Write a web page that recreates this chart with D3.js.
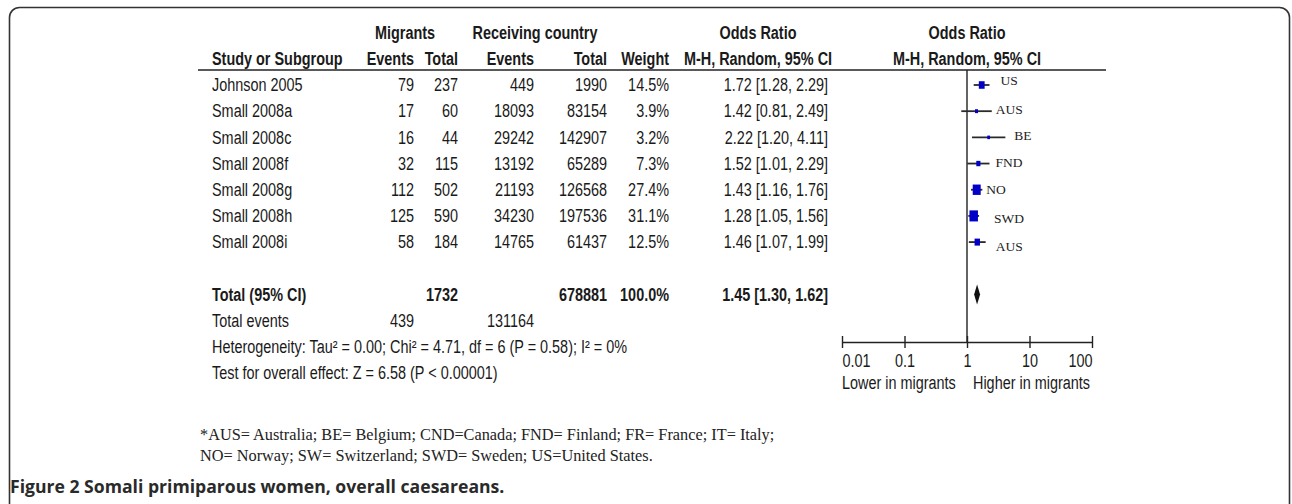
<!DOCTYPE html>
<html>
<head>
<meta charset="utf-8">
<script src="https://cdn.jsdelivr.net/npm/d3@7/dist/d3.min.js"></script>
<style>
body { margin: 0; background: #fff; }
.tbl { font-family: "Liberation Sans", Arial, sans-serif; font-size: 17.6px; fill: #1a1a1a; }
.b { font-weight: bold; }
.ctry { font-family: "Liberation Serif", "Times New Roman", serif; font-size: 13.5px; fill: #222; }
.note { font-family: "Liberation Serif", "Times New Roman", serif; font-size: 16.3px; fill: #222; }
.cap { font-family: "Open Sans", "Noto Sans", sans-serif; font-size: 17.6px; font-weight: bold; fill: #2a2a2a; }
</style>
</head>
<body>
<script>
var width = 1292, height = 504;

// study rows
var studies = ["Johnson 2005", "Small 2008a", "Small 2008c", "Small 2008f", "Small 2008g", "Small 2008h", "Small 2008i"];
var migEvents = [79, 17, 16, 32, 112, 125, 58];
var migTotal = [237, 60, 44, 115, 502, 590, 184];
var recEvents = [449, 18093, 29242, 13192, 21193, 34230, 14765];
var recTotal = [1990, 83154, 142907, 65289, 126568, 197536, 61437];
var weights = [14.5, 3.9, 3.2, 7.3, 27.4, 31.1, 12.5];
var orEst = [1.72, 1.42, 2.22, 1.52, 1.43, 1.28, 1.46];
var orLow = [1.28, 0.81, 1.20, 1.01, 1.16, 1.05, 1.07];
var orHigh = [2.29, 2.49, 4.11, 2.29, 1.76, 1.56, 1.99];
var countries = ["US", "AUS", "BE", "FND", "NO", "SWD", "AUS"];

// pooled
var totalMig = 1732, totalRec = 678881, totalWeight = 100.0;
var totalOR = [1.45, 1.30, 1.62];
var totalEvents = [439, 131164];
var heterogeneity = "Heterogeneity: Tau\u00b2 = 0.00; Chi\u00b2 = 4.71, df = 6 (P = 0.58); I\u00b2 = 0%";
var overall = "Test for overall effect: Z = 6.58 (P < 0.00001)";

var axisTicks = [0.01, 0.1, 1, 10, 100];
var footnote = ["*AUS= Australia; BE= Belgium; CND=Canada; FND= Finland; FR= France; IT= Italy;",
                "NO= Norway; SW= Switzerland; SWD= Sweden; US=United States."];
var caption = "Figure 2 Somali primiparous women, overall caesareans.";

// country labels were placed by hand in the original, nudge them a bit
var labelDx = [11, 4, 9, 6, 4, 15, 10];
var labelDy = [-5, -2, -2, -1, 0, 2, 4];

// no narrow font installed: squeeze a regular one
var squeeze = 0.82;

var fmt2 = d3.format(".2f");
var fmt1 = d3.format(".1f");
function orText(e, l, h) { return fmt2(e) + " [" + fmt2(l) + ", " + fmt2(h) + "]"; }

var svg = d3.select("body").append("svg")
    .attr("width", width)
    .attr("height", height);

svg.append("rect").attr("width", width).attr("height", height).attr("fill", "#fff");

// frame, open at the bottom
svg.append("rect")
    .attr("x", 9.5).attr("y", 7.5)
    .attr("width", 1280).attr("height", 540)
    .attr("rx", 10)
    .attr("fill", "none")
    .attr("stroke", "#333")
    .attr("stroke-width", 1.6);

// row index -> y
var y = d3.scaleLinear().domain([0, 11]).range([85, 373]);
var x = d3.scaleLog().domain([0.01, 100]).range([842, 1092]);
var size = d3.scaleSqrt().domain([0, 31.1]).range([0, 8.5]);

var col = { name: 212, mEv: 414, mTot: 458, rEv: 534, rTot: 607, w: 669, or: 828, orMid: 758, plotMid: 967 };

var t = svg.append("g").attr("class", "tbl");

function txt(sel, xp, yp, s, anchor, bold) {
    return sel.append("text")
        .attr("transform", "translate(" + xp + "," + yp + ") scale(" + squeeze + ",1)")
        .attr("dy", "0.35em")
        .attr("text-anchor", anchor)
        .attr("class", bold ? "b" : null)
        .text(s);
}

// headers
txt(t, 405, 33, "Migrants", "middle", true);
txt(t, 535, 33, "Receiving country", "middle", true);
txt(t, col.orMid, 33, "Odds Ratio", "middle", true);
txt(t, col.plotMid, 33, "Odds Ratio", "middle", true);
txt(t, col.name, 59, "Study or Subgroup", "start", true);
txt(t, col.mEv, 59, "Events", "end", true);
txt(t, col.mTot, 59, "Total", "end", true);
txt(t, col.rEv, 59, "Events", "end", true);
txt(t, col.rTot, 59, "Total", "end", true);
txt(t, col.w, 59, "Weight", "end", true);
txt(t, col.orMid, 59, "M-H, Random, 95% CI", "middle", true);
txt(t, col.plotMid, 59, "M-H, Random, 95% CI", "middle", true);

svg.append("line")
    .attr("x1", 198).attr("x2", 1106)
    .attr("y1", 70).attr("y2", 70)
    .attr("stroke", "#222").attr("stroke-width", 1.5);

// study rows
studies.forEach(function(d, i) {
    var g = t.append("g").attr("class", "row");
    txt(g, col.name, y(i), d, "start");
    txt(g, col.mEv, y(i), migEvents[i], "end");
    txt(g, col.mTot, y(i), migTotal[i], "end");
    txt(g, col.rEv, y(i), recEvents[i], "end");
    txt(g, col.rTot, y(i), recTotal[i], "end");
    txt(g, col.w, y(i), fmt1(weights[i]) + "%", "end");
    txt(g, col.or, y(i), orText(orEst[i], orLow[i], orHigh[i]), "end");
});

// totals
txt(t, col.name, y(8), "Total (95% CI)", "start", true);
txt(t, col.mTot, y(8), totalMig, "end", true);
txt(t, col.rTot, y(8), totalRec, "end", true);
txt(t, col.w, y(8), fmt1(totalWeight) + "%", "end", true);
txt(t, col.or, y(8), orText(totalOR[0], totalOR[1], totalOR[2]), "end", true);
txt(t, col.name, y(9), "Total events", "start");
txt(t, col.mEv, y(9), totalEvents[0], "end");
txt(t, col.rEv, y(9), totalEvents[1], "end");
txt(t, col.name, y(10), heterogeneity, "start");
txt(t, col.name, y(11), overall, "start");

// forest plot
var plot = svg.append("g");
var axisY = 342;

plot.append("line")
    .attr("x1", x(1)).attr("x2", x(1))
    .attr("y1", 70).attr("y2", axisY)
    .attr("stroke", "#222").attr("stroke-width", 1.4);

var ci = plot.selectAll(".ci")
    .data(studies)
    .enter().append("g")
        .attr("class", "ci")
        .attr("transform", function(d, i) { return "translate(0," + y(i) + ")"; });

ci.append("line")
    .attr("x1", function(d, i) { return x(orLow[i]); })
    .attr("x2", function(d, i) { return x(orHigh[i]); })
    .attr("stroke", "#2a2a2a").attr("stroke-width", 1.8);

// boxes came out a little taller than wide in the original
ci.append("rect")
    .attr("x", function(d, i) { return x(orEst[i]) - size(weights[i]) / 2; })
    .attr("y", function(d, i) { return -size(weights[i]) * 0.65; })
    .attr("width", function(d, i) { return size(weights[i]); })
    .attr("height", function(d, i) { return size(weights[i]) * 1.3; })
    .attr("fill", "#0000c8");

ci.append("text")
    .attr("class", "ctry")
    .attr("x", function(d, i) { return x(orHigh[i]) + labelDx[i]; })
    .attr("y", function(d, i) { return labelDy[i]; })
    .attr("dy", "0.35em")
    .text(function(d, i) { return countries[i]; });

// pooled diamond
var dy = y(8);
plot.append("path")
    .attr("d", "M" + x(totalOR[1]) + "," + dy +
               "L" + x(totalOR[0]) + "," + (dy - 10) +
               "L" + x(totalOR[2]) + "," + dy +
               "L" + x(totalOR[0]) + "," + (dy + 10) + "Z")
    .attr("fill", "#111");

var axis = plot.append("g")
    .attr("transform", "translate(0," + axisY + ")")
    .call(d3.axisBottom(x).tickValues(axisTicks).tickSizeOuter(0).tickSizeInner(6).tickFormat(d3.format("~g")));

axis.attr("font-family", null).attr("font-size", null);
axis.select(".domain").attr("stroke", "#222").attr("stroke-width", 1.4);
axis.selectAll(".tick line").attr("y1", -6).attr("y2", 6).attr("stroke", "#222").attr("stroke-width", 1.4);
axis.selectAll(".tick text")
    .attr("class", "tbl")
    .attr("y", null).attr("dy", "0.35em")
    .attr("transform", "translate(0,19) scale(" + squeeze + ",1)")
    .attr("text-anchor", function(d, i) { return i === 0 ? "start" : (i === axisTicks.length - 1 ? "end" : "middle"); });

txt(t, 842, 383, "Lower in migrants", "start");
txt(t, 1090, 383, "Higher in migrants", "end");

// footnote and caption
svg.append("g").selectAll("text")
    .data(footnote)
    .enter().append("text")
        .attr("class", "note")
        .attr("x", 200)
        .attr("y", function(d, i) { return 434 + i * 21; })
        .attr("dy", "0.35em")
        .text(function(d) { return d; });

svg.append("text")
    .attr("class", "cap")
    .attr("x", 10).attr("y", 487).attr("dy", "0.35em")
    .text(caption);
</script>
</body>
</html>
